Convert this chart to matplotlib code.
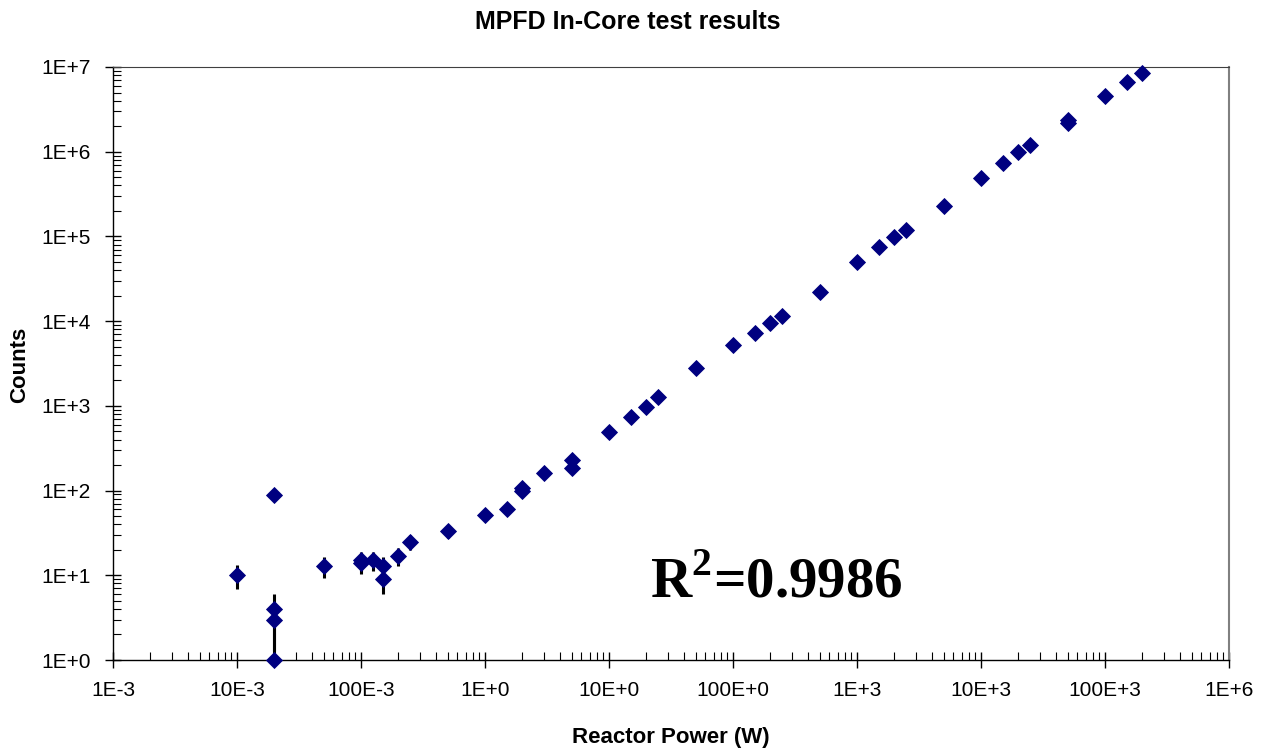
import numpy as np
import matplotlib
matplotlib.use("Agg")
import matplotlib.pyplot as plt
from matplotlib.ticker import FixedLocator, FixedFormatter, LogLocator, NullFormatter

# Reactor power (W) and measured counts
power = [0.01, 0.02, 0.02, 0.02, 0.02, 0.05, 0.1, 0.1, 0.125, 0.15, 0.15,
         0.2, 0.25, 0.5, 1.0, 1.5, 2.0, 2.0, 3.0, 5.0, 5.0,
         10, 15, 20, 25, 50, 100, 150, 200, 250, 500,
         1000, 1500, 2000, 2500, 5000, 10000, 15000, 20000, 25000,
         50000, 50000, 100000, 150000, 200000]
counts = [10, 88, 4, 3, 1, 13, 14, 15, 15, 13, 9,
          17, 25, 33, 52, 61, 100, 106, 162, 230, 185,
          485, 730, 980, 1280, 2800, 5300, 7200, 9600, 11400, 22000,
          50000, 76000, 99000, 119000, 228000, 485000, 735000, 985000, 1200000,
          2350000, 2200000, 4500000, 6700000, 8400000]

x_ticks = [1e-3, 1e-2, 1e-1, 1e0, 1e1, 1e2, 1e3, 1e4, 1e5, 1e6]
x_tick_labels = ["1E-3", "10E-3", "100E-3", "1E+0", "10E+0", "100E+0",
                 "1E+3", "10E+3", "100E+3", "1E+6"]
y_ticks = [1e0, 1e1, 1e2, 1e3, 1e4, 1e5, 1e6, 1e7]
y_tick_labels = ["1E+0", "1E+1", "1E+2", "1E+3", "1E+4", "1E+5", "1E+6", "1E+7"]

r_squared = "0.9986"

plt.rcParams['font.family'] = ['Liberation Sans', 'DejaVu Sans']
plt.rcParams['mathtext.fontset'] = 'custom'
plt.rcParams['mathtext.bf'] = 'Liberation Serif:bold'
plt.rcParams['mathtext.rm'] = 'Liberation Serif:bold'

fig = plt.figure(figsize=(12.66, 7.5), dpi=100)
ax = fig.add_axes([113 / 1266, 90 / 750, 1116 / 1266, 593 / 750])

x = np.array(power)
y = np.array(counts, dtype=float)
err = np.sqrt(y)  # Poisson counting error

ax.set_xscale('log')
ax.set_yscale('log')
ax.errorbar(x, y, yerr=err, fmt='none', ecolor='black', elinewidth=2.2,
            capsize=0, zorder=2)
ax.plot(x, y, linestyle='', marker='D', markersize=8.5, color='#000080',
        markeredgecolor='#000080', markeredgewidth=0.6, zorder=3,
        clip_on=False)

ax.set_xlim(1e-3, 1e6)
ax.set_ylim(1e0, 1e7)

ax.xaxis.set_major_locator(FixedLocator(x_ticks))
ax.xaxis.set_major_formatter(FixedFormatter(x_tick_labels))
ax.yaxis.set_major_locator(FixedLocator(y_ticks))
ax.yaxis.set_major_formatter(FixedFormatter(y_tick_labels))
ax.xaxis.set_minor_locator(LogLocator(base=10, subs=np.arange(2, 10), numticks=20))
ax.yaxis.set_minor_locator(LogLocator(base=10, subs=np.arange(2, 10), numticks=20))
ax.xaxis.set_minor_formatter(NullFormatter())
ax.yaxis.set_minor_formatter(NullFormatter())

ax.tick_params(which='major', direction='inout', length=12, width=1,
               labelsize=15, colors='black')
ax.tick_params(axis='x', which='major', pad=9)
ax.tick_params(axis='y', which='major', pad=10)
ax.tick_params(which='minor', direction='in', length=6, width=0.8)

for side in ['left', 'bottom']:
    ax.spines[side].set_color('black')
    ax.spines[side].set_linewidth(1)
ax.spines['top'].set_color('#404040')
ax.spines['right'].set_color('#808080')
ax.spines['right'].set_linewidth(1.5)

fig.text(671 / 1266, 1 - 737 / 750, "Reactor Power (W)", ha='center',
         va='center', fontsize=16, fontweight='bold')
fig.text(20 / 1266, 1 - 365 / 750, "Counts", ha='center', va='center',
         rotation=90, fontsize=16, fontweight='bold')
fig.text(628 / 1266, 1 - 22 / 750, "MPFD In-Core test results", ha='center',
         va='center', fontsize=18, fontweight='bold')

ax.text(650 / 1266, 1 - 597 / 750, r"R$^2$=" + r_squared,
        transform=fig.transFigure, fontsize=41, ha='left', va='baseline',
        family='Liberation Serif', fontweight='bold')

fig.savefig("out.png", dpi=100, facecolor='white')
